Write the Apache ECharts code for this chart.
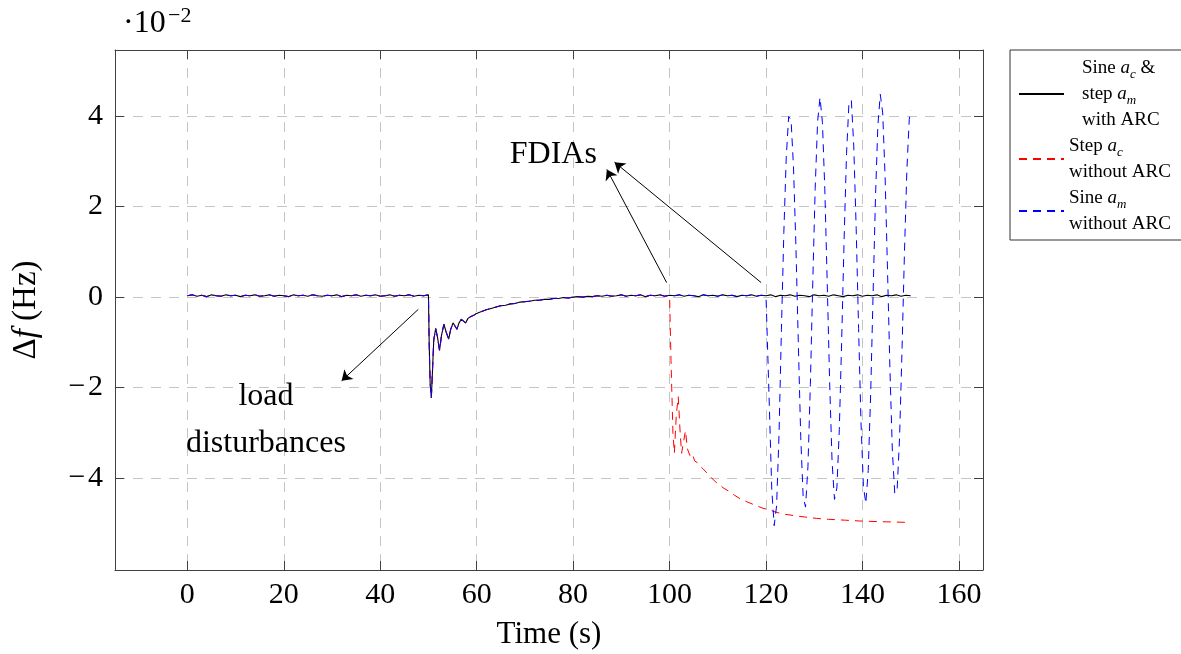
<!DOCTYPE html>
<html>
<head>
<meta charset="utf-8">
<script src="https://cdn.jsdelivr.net/npm/echarts@6/dist/echarts.min.js"></script>
<style>
  html, body { margin: 0; padding: 0; background: #fff; }
  #chart { width: 1181px; height: 654px; }
</style>
</head>
<body>
<div id="chart"></div>
<script>
// Tick positions
const xTicks = [0, 20, 40, 60, 80, 100, 120, 140, 160];
const yTicks = [-4, -2, 0, 2, 4];

// Frequency deviation (x 10^-2 Hz) with ARC: [time s, value]
const withArc = [
  [0,0.03],[1,0.05],[2,0.02],[3,0.04],[4,0.01],[5,0.05],[6,0.03],[7,0.02],[8,0.05],[9,0.03],
  [10,0.04],[11,0.01],[12,0.04],[13,0.03],[14,0.05],[15,0.02],[16,0.03],[17,0.05],[18,0.02],[19,0.04],
  [20,0.03],[21,0.01],[22,0.05],[23,0.03],[24,0.04],[25,0.02],[26,0.05],[27,0.03],[28,0.02],[29,0.04],
  [30,0.03],[31,0.05],[32,0.01],[33,0.04],[34,0.03],[35,0.05],[36,0.02],[37,0.04],[38,0.03],[39,0.05],
  [40,0.02],[41,0.03],[42,0.05],[43,0.02],[44,0.04],[45,0.03],[46,0.05],[47,0.02],[48,0.04],[49,0.03],
  [50,0.05],[50.15,-1.0],[50.35,-1.9],[50.6,-2.23],[50.85,-1.6],[51.1,-0.95],[51.5,-0.69],[51.9,-0.9],
  [52.3,-1.18],[52.7,-0.85],[53.2,-0.60],[53.7,-0.78],[54.2,-0.93],[54.6,-0.72],[55.1,-0.57],[55.5,-0.64],
  [55.9,-0.71],[56.3,-0.58],[56.8,-0.49],[57.2,-0.53],[57.7,-0.57],[58.2,-0.47],[58.8,-0.43],[59.4,-0.40],
  [60,-0.36],[61,-0.32],[62,-0.28],[63,-0.25],[64,-0.22],[65,-0.19],[66,-0.18],[67,-0.15],[68,-0.14],
  [69,-0.11],[70,-0.10],[71,-0.09],[72,-0.07],[73,-0.07],[74,-0.05],[75,-0.05],[76,-0.03],[77,-0.03],
  [78,-0.01],[79,-0.02],[80,0.0],[81,0.01],[82,0.0],[83,0.02],[84,0.01],[85,0.03],[86,0.02],[87,0.04],
  [88,0.02],[89,0.03],[90,0.05],[91,0.02],[92,0.04],[93,0.03],[94,0.05],[95,0.01],[96,0.04],[97,0.03],
  [98,0.05],[99,0.02],[100,0.04],[101,0.03],[102,0.05],[103,0.02],[104,0.04],[105,0.03],[106,0.01],
  [107,0.05],[108,0.03],[109,0.04],[110,0.02],[111,0.05],[112,0.03],[113,0.04],[114,0.01],[115,0.04],
  [116,0.03],[117,0.05],[118,0.02],[119,0.04],[120,0.03],[121,0.05],[122,0.01],[123,0.04],[124,0.03],
  [125,0.05],[126,0.02],[127,0.04],[128,0.03],[129,0.01],[130,0.05],[131,0.03],[132,0.04],[133,0.02],
  [134,0.05],[135,0.03],[136,0.01],[137,0.04],[138,0.03],[139,0.05],[140,0.02],[141,0.04],[142,0.03],
  [143,0.05],[144,0.01],[145,0.04],[146,0.03],[147,0.05],[148,0.02],[149,0.04],[150,0.03]
];

// Step attack on a_c from t = 100 s, no ARC
const stepTail = [
  [100.3,-1.4],[100.7,-3.0],[101.0,-3.45],[101.4,-2.6],[101.8,-2.2],[102.2,-3.0],[102.5,-3.45],
  [102.9,-3.2],[103.3,-2.95],[103.7,-3.35],[104.2,-3.5],[104.7,-3.45],[105.2,-3.62],[105.8,-3.66],
  [106.4,-3.74],[107.0,-3.80],[107.7,-3.88],[108.5,-3.97],[109.3,-4.06],[110.2,-4.14],[111.2,-4.22],
  [112.3,-4.29],[113.5,-4.38],[114.7,-4.46],[116.2,-4.53],[117.8,-4.60],[119.2,-4.66],[120.6,-4.70],
  [122.3,-4.76],[124.0,-4.80],[126.0,-4.83],[128.1,-4.86],[130.5,-4.89],[133.0,-4.91],[136.5,-4.93],
  [139.9,-4.95],[143,-4.96],[146.5,-4.97],[150,-4.98]
];

// Sine attack on a_m from t = 120 s, no ARC
const sineTail = [
  [120.2,0.0],[120.7,-2.43],[121.2,-4.26],[121.7,-5.05],[122.2,-4.61],[122.7,-3.03],[123.2,-0.71],
  [123.7,1.43],[124.2,3.09],[124.7,3.99],[125.2,3.91],[125.7,2.88],[126.2,1.14],[126.7,-1.01],
  [127.2,-3.08],[127.7,-4.40],[128.2,-4.64],[128.7,-3.74],[129.2,-1.93],[129.7,0.33],[130.2,2.40],
  [130.7,3.88],[131.2,4.41],[131.7,3.86],[132.2,2.37],[132.7,0.29],[133.2,-1.89],[133.7,-3.63],
  [134.2,-4.47],[134.7,-4.22],[135.2,-2.93],[135.7,-0.93],[136.2,1.28],[136.7,3.17],[137.2,4.28],
  [137.7,4.35],[138.2,3.34],[138.7,1.52],[139.2,-0.69],[139.7,-2.77],[140.2,-4.18],[140.7,-4.56],
  [141.2,-3.83],[141.7,-2.16],[142.2,0.04],[142.7,2.19],[143.2,3.80],[143.7,4.48],[144.2,4.07],
  [144.7,2.66],[145.2,0.59],[145.7,-1.59],[146.2,-3.38],[146.7,-4.34],[147.2,-4.24],[147.7,-3.10],
  [148.2,-1.20],[148.7,0.93],[149.2,2.77],[149.7,3.92],[150,4.12]
];

const stepNoArc = withArc.filter(p => p[0] <= 100).concat(stepTail);
const sineNoArc = withArc.filter(p => p[0] <= 120).concat(sineTail);

// Annotation arrows [from, to] and labels, in data units
const arrows = [
  [[47.9, -0.27], [32.0, -1.85]],
  [[99.4, 0.32], [87.0, 2.82]],
  [[119.0, 0.32], [88.6, 2.98]]
];
const notes = [
  { text: 'load', at: [16.3, -2.19] },
  { text: 'disturbances', at: [16.3, -3.23] },
  { text: 'FDIAs', at: [75.9, 3.15] }
];

const SERIF = 'Liberation Serif, Times New Roman, serif';
const gridDash = { color: '#c4c4c4', width: 1, type: [10, 8] };
const boxLine = { color: '#404040', width: 1 };
const tickLabel = v => String(v).replace('-', '\u2212\u200a');

const legendText = {
  arc: '{p|Sine }{i|a}{s|c}{n| &}\n{p|step }{i|a}{s|m}\n{p|with ARC}',
  step: '{n|Step }{i|a}{s|c}\n{n|without ARC}',
  sine: '{n|Sine }{i|a}{s|m}\n{n|without ARC}'
};

const chart = echarts.init(document.getElementById('chart'), null, { renderer: 'canvas' });

chart.setOption({
  animation: false,
  backgroundColor: '#fff',
  title: [
    { text: '\u00b710', left: 123, top: 8, padding: 0,
      textStyle: { fontFamily: SERIF, fontSize: 32, fontWeight: 'normal', color: '#000' } },
    { text: '\u22122', left: 168, top: 5, padding: 0,
      textStyle: { fontFamily: SERIF, fontSize: 22, fontWeight: 'normal', color: '#000' } }
  ],
  grid: { left: 115, right: 198, top: 50, bottom: 84, containLabel: false, outerBoundsMode: 'none' },
  legend: {
    data: ['arc', 'step', 'sine'],
    orient: 'vertical',
    left: 1010, top: 50,
    padding: [5, 14, 3, 8],
    itemGap: 0, itemWidth: 45, itemHeight: 14, itemTextGap: 5,
    borderColor: '#333', borderWidth: 1, backgroundColor: '#fff',
    selectedMode: false,
    itemStyle: { opacity: 0 },
    formatter: name => legendText[name],
    textStyle: {
      fontFamily: SERIF, fontSize: 19, lineHeight: 26, color: '#000',
      rich: {
        p: { fontFamily: SERIF, fontSize: 19, lineHeight: 26, padding: [0, 0, 0, 13] },
        n: { fontFamily: SERIF, fontSize: 19, lineHeight: 26 },
        i: { fontFamily: SERIF, fontSize: 19, lineHeight: 26, fontStyle: 'italic' },
        s: { fontFamily: SERIF, fontSize: 13, lineHeight: 13, fontStyle: 'italic', verticalAlign: 'bottom' }
      }
    }
  },
  xAxis: [
    {
      type: 'value', min: -15, max: 165, position: 'bottom',
      axisLine: { show: true, onZero: false, lineStyle: boxLine },
      axisTick: { show: true, inside: true, length: 9, customValues: xTicks, lineStyle: boxLine },
      axisLabel: { customValues: xTicks, fontFamily: SERIF, fontSize: 30, color: '#000', margin: 10, formatter: tickLabel },
      splitLine: { show: true, lineStyle: gridDash },
      name: 'Time (s)', nameLocation: 'middle', nameGap: 49,
      nameTextStyle: { fontFamily: SERIF, fontSize: 31, color: '#000' }
    },
    {
      type: 'value', min: -15, max: 165, position: 'top',
      axisLine: { show: true, onZero: false, lineStyle: boxLine },
      axisTick: { show: true, inside: true, length: 9, customValues: xTicks, lineStyle: boxLine },
      axisLabel: { show: false },
      splitLine: { show: false }
    }
  ],
  yAxis: [
    {
      type: 'value', min: -6.03, max: 5.46, position: 'left',
      axisLine: { show: true, onZero: false, lineStyle: boxLine },
      axisTick: { show: true, inside: true, length: 9, customValues: yTicks, lineStyle: boxLine },
      axisLabel: { customValues: yTicks, fontFamily: SERIF, fontSize: 30, color: '#000', margin: 12, formatter: tickLabel },
      splitLine: { show: true, lineStyle: gridDash },
      name: '{u|\u0394}{i|f}{u| (Hz)}', nameLocation: 'middle', nameGap: 72, nameRotate: 90,
      nameTextStyle: {
        fontFamily: SERIF, fontSize: 33, color: '#000',
        rich: {
          u: { fontFamily: SERIF, fontSize: 33, color: '#000' },
          i: { fontFamily: SERIF, fontSize: 33, color: '#000', fontStyle: 'italic' }
        }
      }
    },
    {
      type: 'value', min: -6.03, max: 5.46, position: 'right',
      axisLine: { show: true, onZero: false, lineStyle: boxLine },
      axisTick: { show: true, inside: true, length: 9, customValues: yTicks, lineStyle: boxLine },
      axisLabel: { show: false },
      splitLine: { show: false }
    }
  ],
  series: [
    {
      name: 'arc', type: 'line', data: withArc, symbol: 'none', z: 2,
      lineStyle: { color: '#000', width: 1.1 }, itemStyle: { color: '#000' },
      markLine: {
        silent: true, symbol: ['none', 'arrow'], symbolSize: 10, animation: false,
        label: { show: false },
        itemStyle: { color: '#000' },
        lineStyle: { color: '#000', width: 1, type: 'solid' },
        data: arrows.map(a => [{ coord: a[0] }, { coord: a[1] }])
      },
      markPoint: {
        silent: true, symbol: 'circle', symbolSize: 0, animation: false,
        label: { show: true, position: 'inside', fontFamily: SERIF, fontSize: 32, color: '#000',
                 formatter: p => p.name },
        data: notes.map(n => ({ name: n.text, coord: n.at }))
      }
    },
    {
      name: 'step', type: 'line', data: stepNoArc, symbol: 'none', z: 3,
      lineStyle: { color: '#ff0000', width: 1, type: [8, 6] }, itemStyle: { color: '#ff0000' }
    },
    {
      name: 'sine', type: 'line', data: sineNoArc, symbol: 'none', z: 4,
      lineStyle: { color: '#0000ff', width: 1, type: [8, 6] }, itemStyle: { color: '#0000ff' }
    }
  ]
});
</script>
</body>
</html>
